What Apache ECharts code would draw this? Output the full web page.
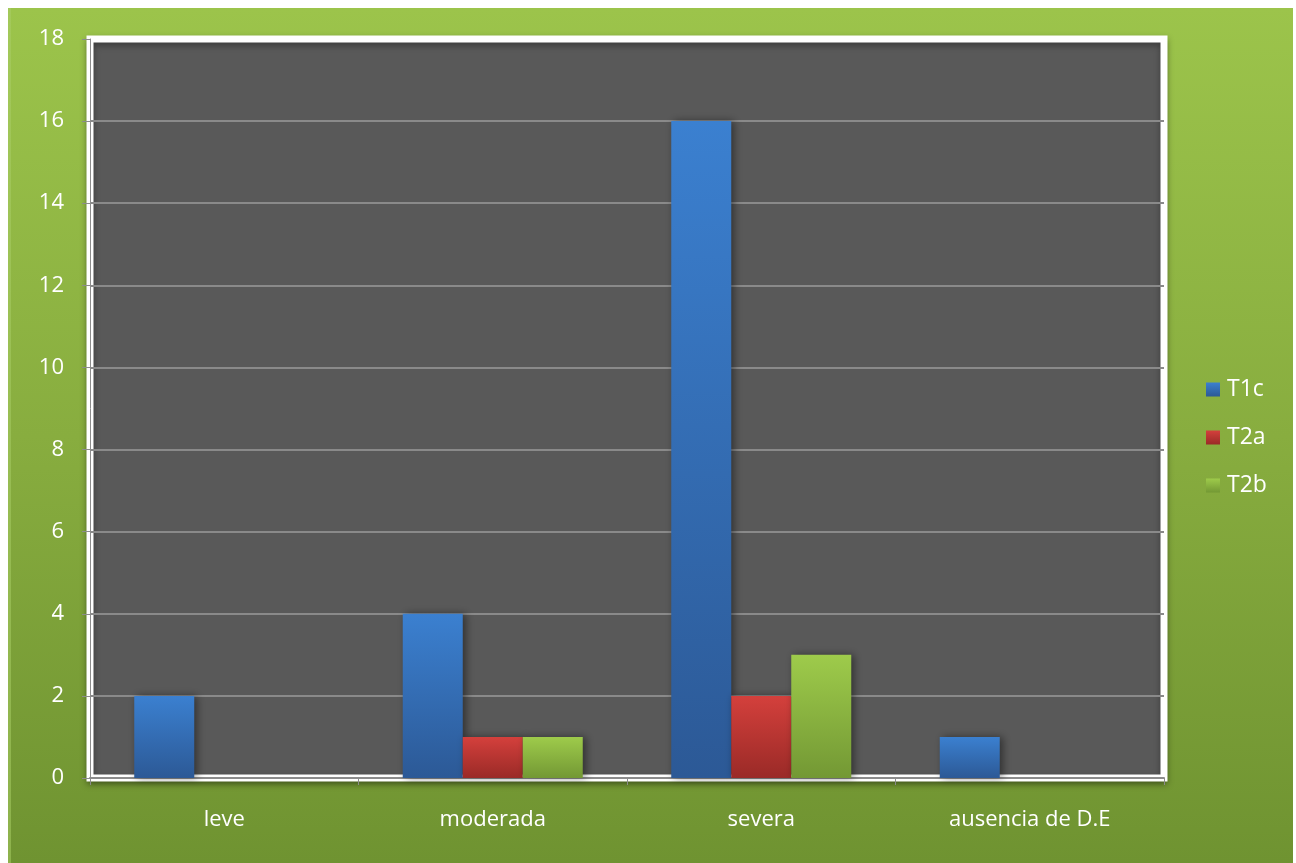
<!DOCTYPE html>
<html>
<head>
<meta charset="utf-8">
<script src="https://cdn.jsdelivr.net/npm/echarts@6/dist/echarts.min.js"></script>
<style>
  html,body{margin:0;padding:0;background:#fff;width:1296px;height:863px;overflow:hidden;}
  #bg{position:absolute;left:8px;top:8px;width:1285px;height:855px;
      background:linear-gradient(to bottom,#9cc44b 0%,#88ad3f 50%,#6f9331 100%);}
  #edge{position:absolute;left:8px;top:8px;width:3px;height:855px;
      background:linear-gradient(to bottom,#a3c95a 0%,#8db24c 100%);}
  #chart{position:absolute;left:0;top:0;width:1296px;height:863px;}
</style>
</head>
<body>
<div id="bg"></div>
<div id="edge"></div>
<div id="chart"></div>
<script>
const categories = ['leve', 'moderada', 'severa', 'ausencia de D.E'];
const seriesNames = ['T1c', 'T2a', 'T2b'];
const t1c = [2, 4, 16, 1];
const t2a = [0, 1, 2, 0];
const t2b = [0, 1, 3, 0];
const yTicks = { min: 0, max: 18, interval: 2 };

const grad = (top, bottom) => new echarts.graphic.LinearGradient(0, 0, 0, 1, [
  { offset: 0, color: top }, { offset: 1, color: bottom }
]);
const colors = [grad('#3b80d0', '#2c5996'), grad('#d4403c', '#9a2a27'), grad('#9ecb4b', '#739834')];
const legendColors = [grad('#3b80d0', '#2c5996'), grad('#d4403c', '#9a2a27'), grad('#9ecb4b', '#739834')];
const font = '"Open Sans", "Liberation Sans", sans-serif';

const chart = echarts.init(document.getElementById('chart'), null, { renderer: 'canvas' });
const mk = (name, data, i) => ({
  name, type: 'bar', data,
  barWidth: 60, barGap: '0%',
  itemStyle: { color: colors[i], shadowColor: 'rgba(0,0,0,0.45)', shadowBlur: 8, shadowOffsetX: 3, shadowOffsetY: 0 },
  emphasis: { disabled: true }
});
chart.setOption({
  backgroundColor: 'transparent',
  animation: false,
  grid: {
    show: true, left: 90, right: 132, top: 39, bottom: 85,
    backgroundColor: '#595959', borderColor: '#ffffff', borderWidth: 7,
    shadowColor: 'rgba(0,0,0,0.35)', shadowBlur: 6, shadowOffsetY: 3
  },
  legend: {
    orient: 'vertical', left: 1206, top: 378, padding: 0,
    itemWidth: 14, itemHeight: 14, itemGap: 25,
    icon: 'rect',
    textStyle: { color: '#ffffff', fontSize: 23, lineHeight: 20, fontFamily: font, padding: [0, 0, 0, 2] },
    data: seriesNames.map((n, i) => ({ name: n, itemStyle: { color: legendColors[i] } }))
  },
  xAxis: {
    type: 'category', data: categories,
    axisLine: { show: true, lineStyle: { color: '#8c8c8c', width: 2 } },
    axisTick: { show: true, length: 7, lineStyle: { color: '#8c8c8c', width: 1 } },
    axisLabel: { color: '#ffffff', fontSize: 22, fontFamily: font, margin: 31 }
  },
  yAxis: {
    type: 'value', min: yTicks.min, max: yTicks.max, interval: yTicks.interval,
    axisLine: { show: true, lineStyle: { color: '#8c8c8c', width: 1 } },
    axisTick: { show: true, length: 8, lineStyle: { color: '#8c8c8c', width: 1 } },
    axisLabel: { color: '#ffffff', fontSize: 22, fontFamily: font, margin: 26 },
    splitLine: { show: true, showMinLine: false, showMaxLine: false, lineStyle: { color: '#8a8a8a', width: 2 } }
  },
  series: [mk('T1c', t1c, 0), mk('T2a', t2a, 1), mk('T2b', t2b, 2)]
});
</script>
</body>
</html>
